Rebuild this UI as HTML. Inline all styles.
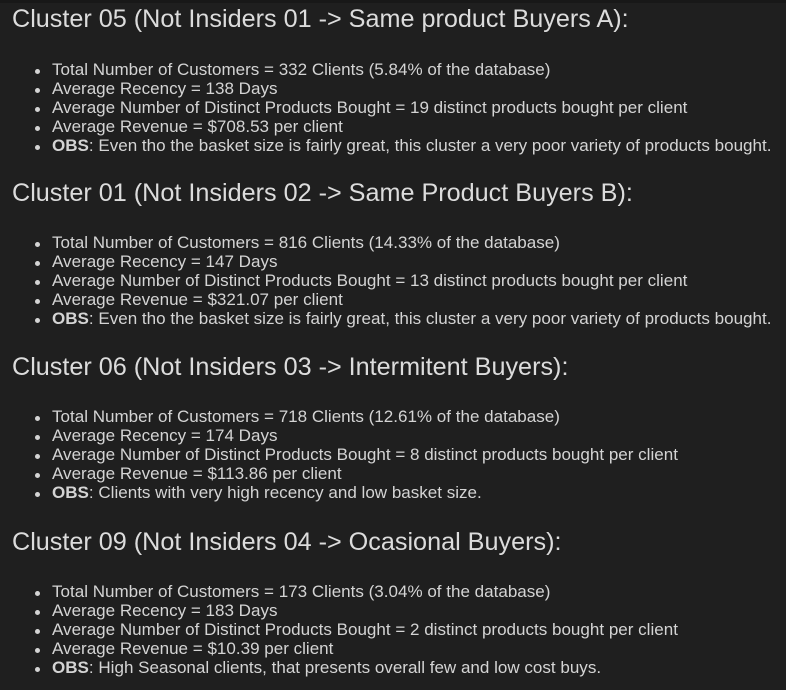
<!DOCTYPE html>
<html><head><meta charset="utf-8"><style>
body{margin:0;width:786px;height:690px;background:#1f1f1f;overflow:hidden;font-family:"Liberation Sans",sans-serif;color:#d4d4d4;position:relative}
.top{position:absolute;left:0;top:0;width:786px;height:3px;background:#181818}
h2{position:absolute;left:12px;margin:0;font-weight:normal;font-size:25.2px;line-height:30px;white-space:nowrap;color:#dcdcdc}
.li{position:absolute;left:52px;font-size:17.05px;line-height:20px;white-space:nowrap}
.li::before{content:"";position:absolute;left-:0;left:-17px;top:9px;width:5px;height:5px;border-radius:50%;background:#d4d4d4}
b{font-weight:bold}
</style></head><body>
<div class="top"></div>

<h2 style="top:4px">Cluster 05 (Not Insiders 01 -&gt; Same product Buyers A):</h2>
<div class="li" style="top:60px">Total Number of Customers = 332 Clients (5.84% of the database)</div>
<div class="li" style="top:79px">Average Recency = 138 Days</div>
<div class="li" style="top:98px">Average Number of Distinct Products Bought = 19 distinct products bought per client</div>
<div class="li" style="top:117px">Average Revenue = $708.53 per client</div>
<div class="li" style="top:136px"><b>OBS</b>: Even tho the basket size is fairly great, this cluster a very poor variety of products bought.</div>

<h2 style="top:178px">Cluster 01 (Not Insiders 02 -&gt; Same Product Buyers B):</h2>
<div class="li" style="top:233px">Total Number of Customers = 816 Clients (14.33% of the database)</div>
<div class="li" style="top:252px">Average Recency = 147 Days</div>
<div class="li" style="top:271px">Average Number of Distinct Products Bought = 13 distinct products bought per client</div>
<div class="li" style="top:290px">Average Revenue = $321.07 per client</div>
<div class="li" style="top:309px"><b>OBS</b>: Even tho the basket size is fairly great, this cluster a very poor variety of products bought.</div>

<h2 style="top:352px">Cluster 06 (Not Insiders 03 -&gt; Intermitent Buyers):</h2>
<div class="li" style="top:407px">Total Number of Customers = 718 Clients (12.61% of the database)</div>
<div class="li" style="top:426px">Average Recency = 174 Days</div>
<div class="li" style="top:445px">Average Number of Distinct Products Bought = 8 distinct products bought per client</div>
<div class="li" style="top:464px">Average Revenue = $113.86 per client</div>
<div class="li" style="top:483px"><b>OBS</b>: Clients with very high recency and low basket size.</div>

<h2 style="top:527px">Cluster 09 (Not Insiders 04 -&gt; Ocasional Buyers):</h2>
<div class="li" style="top:582px">Total Number of Customers = 173 Clients (3.04% of the database)</div>
<div class="li" style="top:601px">Average Recency = 183 Days</div>
<div class="li" style="top:620px">Average Number of Distinct Products Bought = 2 distinct products bought per client</div>
<div class="li" style="top:639px">Average Revenue = $10.39 per client</div>
<div class="li" style="top:658px"><b>OBS</b>: High Seasonal clients, that presents overall few and low cost buys.</div>
</body></html>
